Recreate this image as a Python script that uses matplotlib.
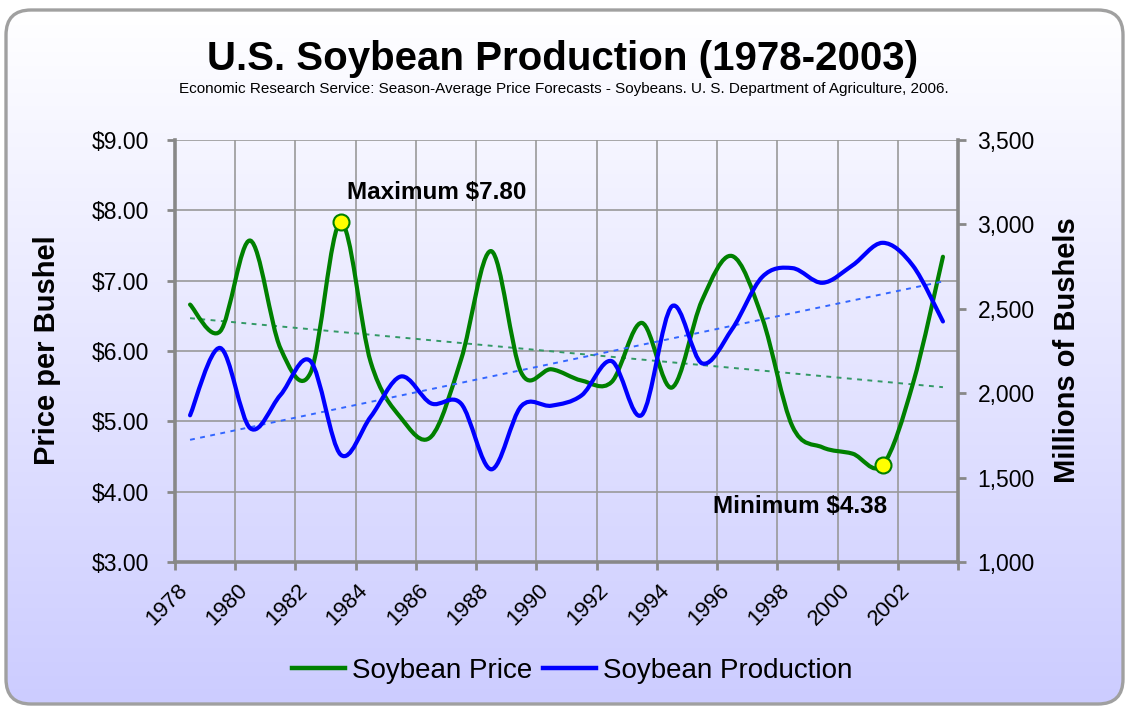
import numpy as np
import matplotlib
matplotlib.use("Agg")
import matplotlib.pyplot as plt
from matplotlib.path import Path
from matplotlib.patches import PathPatch, FancyBboxPatch
from matplotlib.lines import Line2D
import matplotlib.transforms as mtrans

plt.rcParams['font.family'] = ['Liberation Sans', 'DejaVu Sans']

# ---------------- data ----------------
years = list(range(1978, 2004))
price = [6.66, 6.28, 7.57, 6.04, 5.69, 7.83, 5.84, 5.05, 4.78, 5.88, 7.42, 5.69, 5.74,
         5.58, 5.56, 6.40, 5.48, 6.72, 7.35, 6.47, 4.93, 4.63, 4.54, 4.38, 5.53, 7.34]
production = [1869, 2268, 1792, 1989, 2190, 1636, 1861, 2099, 1940, 1938, 1549, 1924, 1926,
              1987, 2190, 1871, 2515, 2177, 2380, 2689, 2741, 2654, 2758, 2891, 2756, 2425]
tick_years = list(range(1978, 2003, 2))
price_ticks = [3, 4, 5, 6, 7, 8, 9]
prod_ticks = [1000, 1500, 2000, 2500, 3000, 3500]
title = "U.S. Soybean Production (1978-2003)"
subtitle = ("Economic Research Service: Season-Average Price Forecasts - Soybeans. "
            "U. S. Department of Agriculture, 2006.")
max_label = "Maximum $7.80"
min_label = "Minimum $4.38"
legend_labels = ["Soybean Price", "Soybean Production"]

W, H, DPI = 1127, 709, 100
fig = plt.figure(figsize=(W / DPI, H / DPI), dpi=DPI)
fig.patch.set_facecolor('white')

# ---------------- background (rounded gradient panel) ----------------
bg = fig.add_axes([0, 0, 1, 1])
bg.set_xlim(0, W)
bg.set_ylim(H, 0)
bg.axis('off')
top_c = np.array([255, 255, 255]) / 255
bot_c = np.array([204, 204, 255]) / 255
t = np.linspace(0, 1, 256)[:, None]
grad = (top_c[None, :] * (1 - t) + bot_c[None, :] * t)[:, None, :]
panel = FancyBboxPatch((6, 10), 1117, 694, boxstyle="round,pad=0,rounding_size=25",
                       facecolor='none', edgecolor='#a0a0a0', linewidth=2.4, zorder=3)
bg.add_patch(panel)
im = bg.imshow(grad, extent=[6, 1123, 704, 10], aspect='auto', zorder=1)
im.set_clip_path(panel)

# ---------------- main axes ----------------
L, R, T, B = 175, 958, 140, 562
ax = fig.add_axes([L / W, 1 - B / H, (R - L) / W, (B - T) / H])
ax.patch.set_alpha(0)
ax2 = ax.twinx()
ax2.patch.set_alpha(0)

x = np.array(years) + 0.5
p = np.array(price)
q = np.array(production)


def smooth_path(xs, ys):
    pts = np.column_stack([xs, ys])
    n = len(pts)
    verts = [pts[0]]
    codes = [Path.MOVETO]
    for i in range(n - 1):
        p0 = pts[i - 1] if i > 0 else pts[i]
        p1 = pts[i]
        p2 = pts[i + 1]
        p3 = pts[i + 2] if i + 2 < n else pts[i + 1]
        c1 = p1 + (p2 - p0) / 6.0
        c2 = p2 - (p3 - p1) / 6.0
        verts += [c1, c2, p2]
        codes += [Path.CURVE4] * 3
    return Path(verts, codes)


green = '#008000'
blue = '#0000ff'

ax.set_xlim(1978, 2004)
ax.set_ylim(3, 9)
ax2.set_ylim(1000, 3500)

# trendlines
cp = np.polyfit(x, p, 1)
ax.plot([x[0], x[-1]], np.polyval(cp, [x[0], x[-1]]), color='#339966', lw=1.4,
        linestyle=(0, (2.5, 2.8)), zorder=2)
cq = np.polyfit(x, q, 1)
ax2.plot([x[0], x[-1]], np.polyval(cq, [x[0], x[-1]]), color='#3366ff', lw=1.4,
         linestyle=(0, (2.5, 2.8)), zorder=2)

ax.add_patch(PathPatch(smooth_path(x, p), facecolor='none', edgecolor=green, lw=3.0,
                       capstyle='round', joinstyle='round', zorder=4))
ax2.add_patch(PathPatch(smooth_path(x, q), facecolor='none', edgecolor=blue, lw=3.0,
                        capstyle='round', joinstyle='round', zorder=4))

imax = int(np.argmax(p))
imin = int(np.argmin(p))
ax2.set_zorder(ax.get_zorder() + 1)
for i in (imax, imin):
    ax2.plot([x[i]], [p[i]], marker='o', ms=11.5, mfc='#ffff00', mec=green, mew=1.5,
             transform=ax.transData, zorder=6, clip_on=False)

ax2.annotate(max_label, xy=(x[imax], p[imax]), xycoords=ax.transData,
             xytext=(6, 30), textcoords='offset pixels', ha='left', va='center',
             fontsize=17.5, fontweight='bold', color='black', zorder=7)
ax2.annotate(min_label, xy=(x[imin], p[imin]), xycoords=ax.transData,
             xytext=(-170, -42), textcoords='offset pixels', ha='left', va='center',
             fontsize=17.5, fontweight='bold', color='black', zorder=7)

# grid
ax.set_xticks(list(range(1978, 2005, 2)))
ax.set_xticklabels([str(y) for y in tick_years] + [''])
ax.set_yticks(price_ticks)
ax.set_yticklabels(['${:.2f}'.format(v) for v in price_ticks])
ax.grid(True, color='#999999', lw=1.2, zorder=0)
ax.set_axisbelow(True)
ax2.set_yticks(prod_ticks)
ax2.set_yticklabels(['{:,}'.format(v) for v in prod_ticks])

for a in (ax, ax2):
    for s in a.spines.values():
        s.set_visible(False)
ax.spines['left'].set_visible(True)
ax.spines['bottom'].set_visible(True)
ax2.spines['right'].set_visible(True)
for s in (ax.spines['left'], ax.spines['bottom'], ax2.spines['right']):
    s.set_color('#888888')
    s.set_linewidth(2.6)

ax.tick_params(axis='y', direction='out', length=6, width=2, color='#888888',
               labelsize=16.5, pad=13, labelcolor='black')
ax.tick_params(axis='x', direction='out', length=6, width=2, color='#888888',
               labelsize=16, pad=12, labelcolor='black')
ax2.tick_params(axis='y', direction='out', length=6, width=2, color='#888888',
                labelsize=16.5, pad=8, labelcolor='black')
offset = mtrans.ScaledTranslation(9 / DPI, 0, fig.dpi_scale_trans)
for lbl in ax.get_xticklabels():
    lbl.set_rotation(45)
    lbl.set_ha('right')
    lbl.set_va('center')
    lbl.set_rotation_mode('anchor')
    lbl.set_transform(lbl.get_transform() + offset)

# texts
fig.text(563 / W, 1 - 59 / H, title, ha='center', va='center', fontsize=29,
         fontweight='bold')
fig.text(564 / W, 1 - 89 / H, subtitle, ha='center', va='center', fontsize=11)
fig.text(47 / W, 1 - 350 / H, "Price per Bushel", rotation=90, ha='center', va='center',
         fontsize=21, fontweight='bold')
fig.text(1067 / W, 1 - 350 / H, "Millions of Bushels", rotation=90, ha='center',
         va='center', fontsize=21, fontweight='bold')

handles = [Line2D([], [], color=green, lw=3.2), Line2D([], [], color=blue, lw=3.2)]
fig.legend(handles, legend_labels, loc='center', bbox_to_anchor=(572 / W, 1 - 671 / H),
           ncol=2, frameon=False, fontsize=20, handlelength=1.9, handletextpad=0.25,
           columnspacing=0.4)

fig.savefig('out.png', dpi=DPI)
